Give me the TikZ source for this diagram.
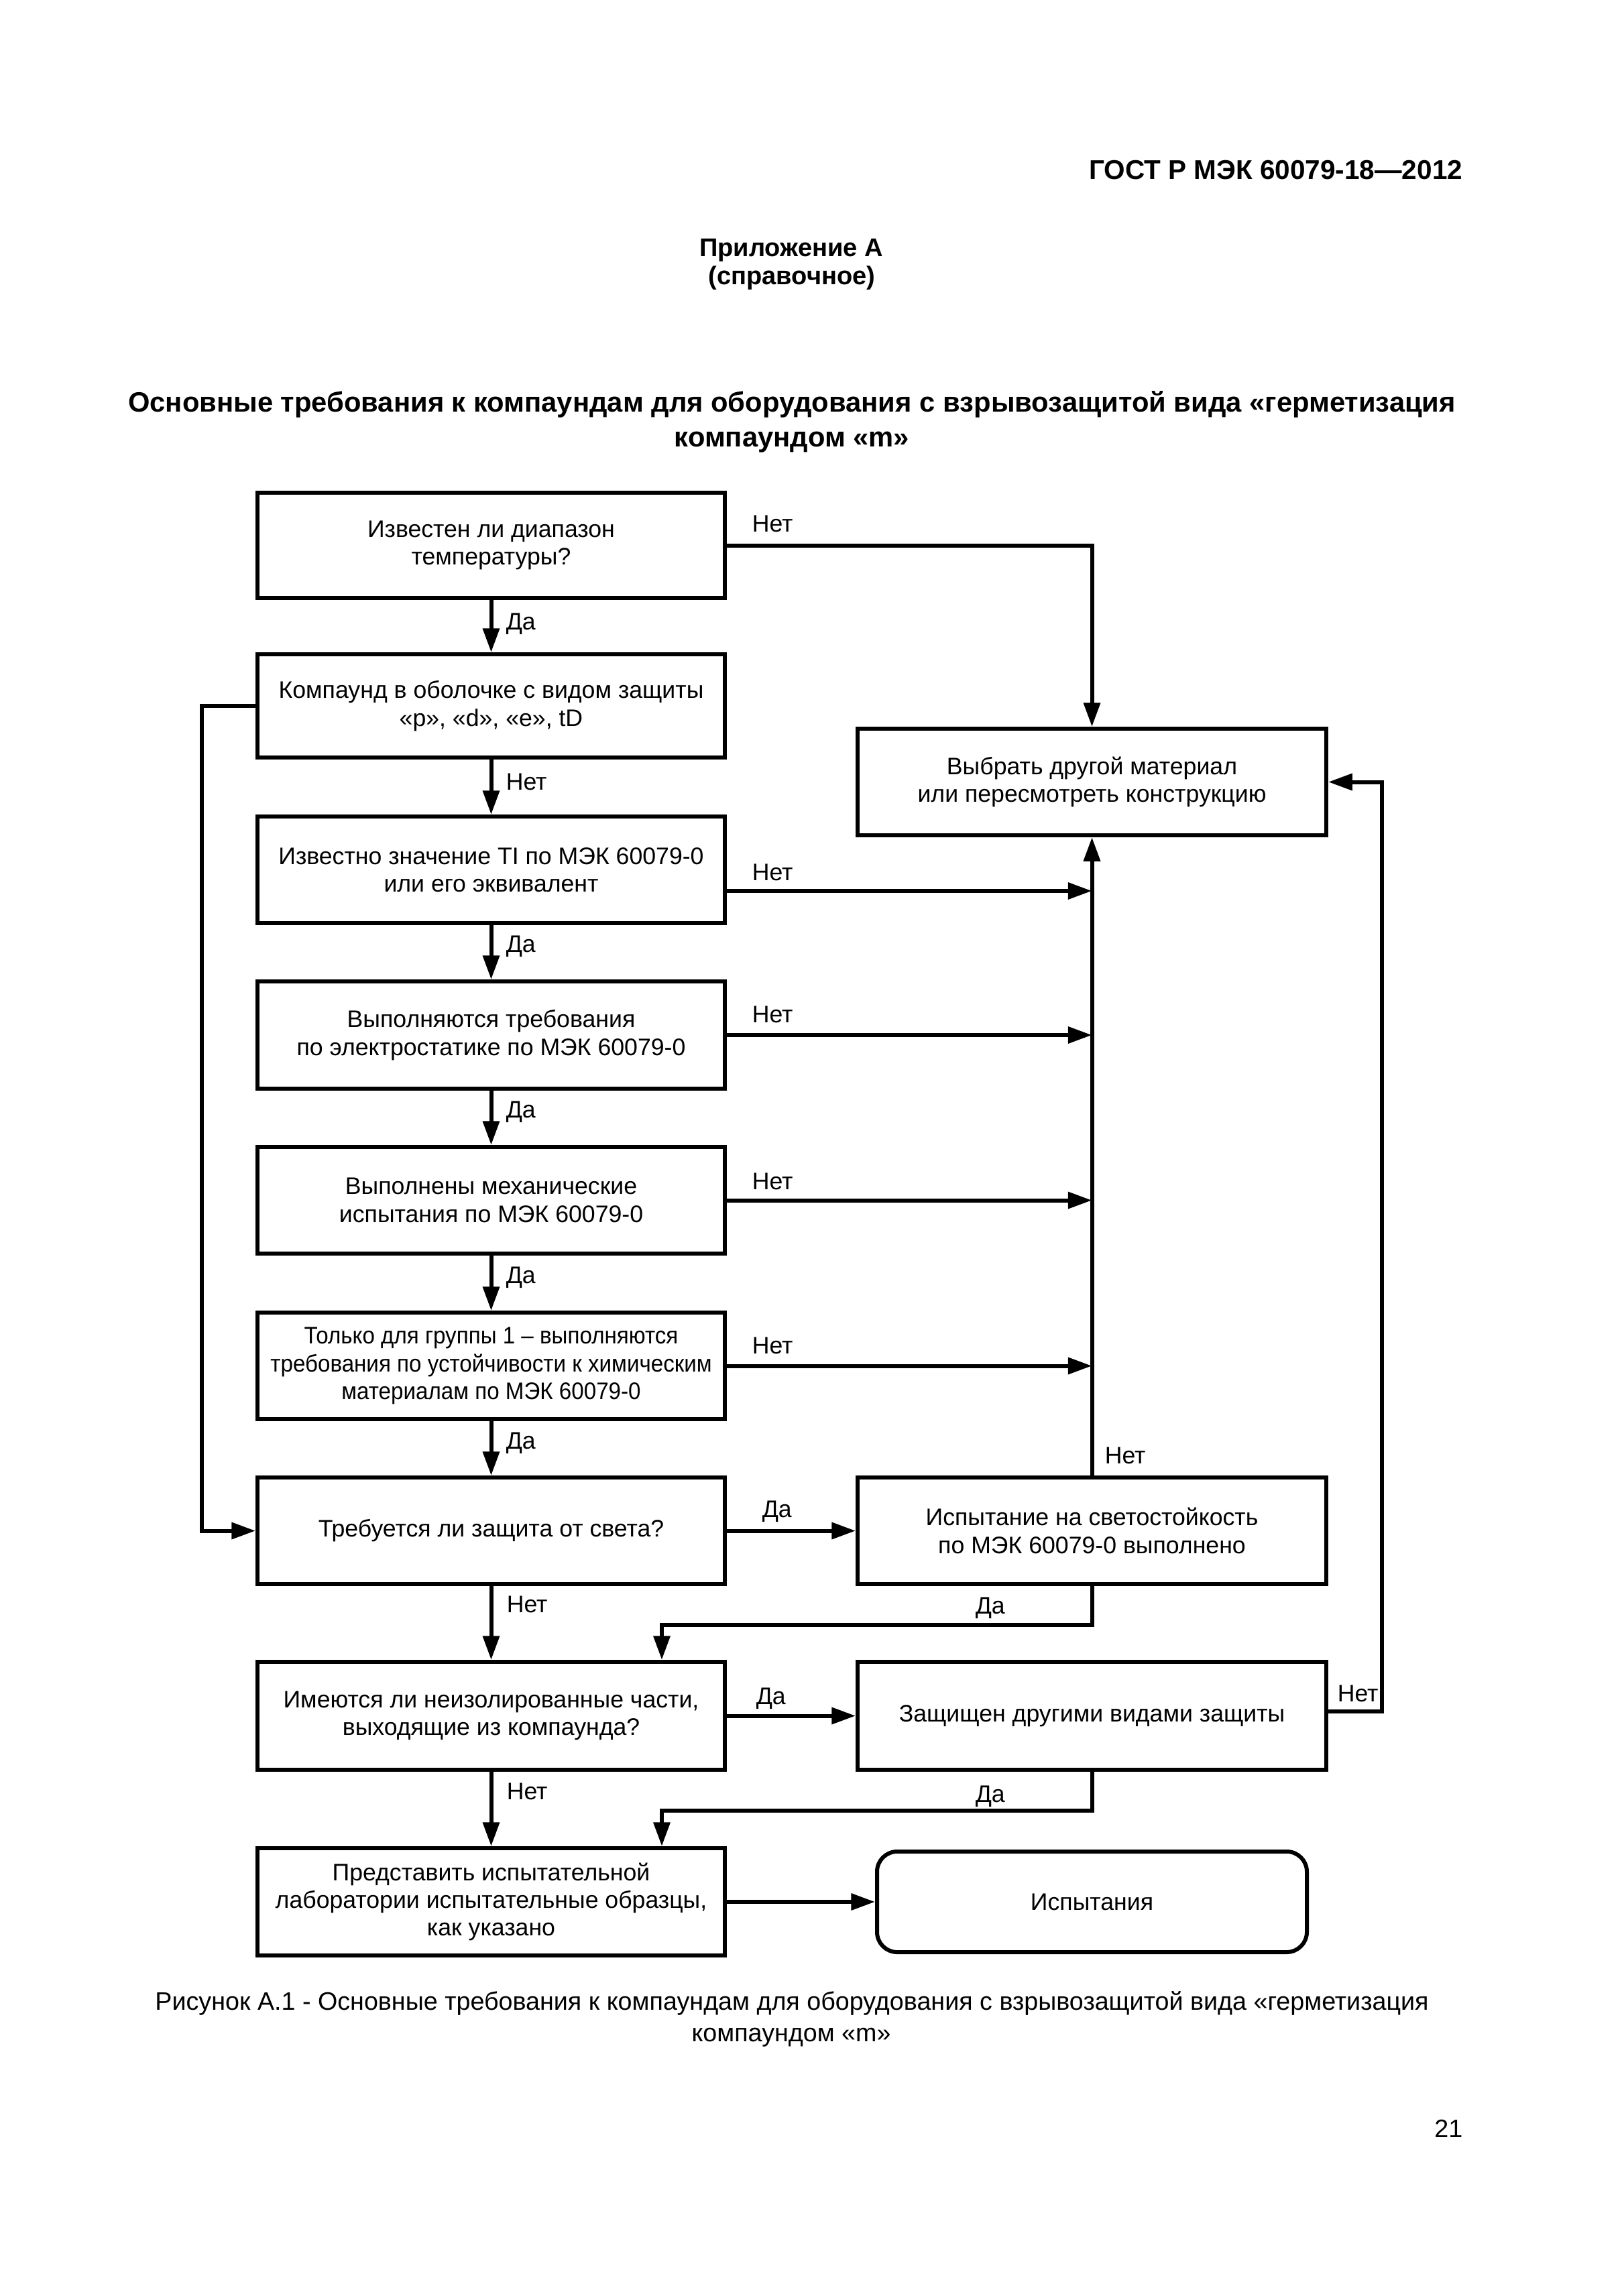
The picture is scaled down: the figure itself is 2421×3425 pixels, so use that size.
\documentclass[tikz,border=0pt]{standalone}
\usepackage{fontspec}
\setmainfont{Liberation Sans}
\newfontfamily\narrowsans[FakeStretch=0.93,Ligatures=TeX]{Liberation Sans}
\usetikzlibrary{arrows.meta}
\begin{document}
\begin{tikzpicture}[x=0.086741mm, y=-0.086741mm,
  box/.style={draw, line width=0.52mm, rectangle, align=center, inner sep=0pt,
    font=\fontsize{8.8}{10.2}\selectfont},
  bsz/.style 2 args={minimum width=#1*0.086741mm, minimum height=#2*0.086741mm},
  conn/.style={line width=0.52mm},
  arr/.style={conn, -{Triangle[length=3.1mm,width=2.1mm]}},
  lbl/.style={anchor=base west, inner sep=0pt, font=\fontsize{8.8}{10}\selectfont},
  hdr/.style={inner sep=0pt, font=\fontsize{10}{12}\selectfont\bfseries},
  captxt/.style={inner sep=0pt, font=\fontsize{9.3}{11}\selectfont},
]
\useasboundingbox (0,0) rectangle (2421,3425);

% header texts
\node[hdr, anchor=base east] (gost) at (2182,267) {ГОСТ Р МЭК 60079-18—2012};
\node[hdr, anchor=base, font=\fontsize{9.4}{11}\selectfont\bfseries] (pril) at (1180,382) {Приложение А};
\node[hdr, anchor=base, font=\fontsize{9.4}{11}\selectfont\bfseries] (sprav) at (1181,424) {(справочное)};
\node[hdr, anchor=base, font=\fontsize{10.3}{12}\selectfont\bfseries] (title1) at (1181,614) {Основные требования к компаундам для оборудования с взрывозащитой вида «герметизация};
\node[hdr, anchor=base, font=\fontsize{10.3}{12}\selectfont\bfseries] (title2) at (1181,666) {компаундом «m»};

% left column boxes
\node[box, bsz={697}{157}] (b1) at (732.5,813.5) {Известен ли диапазон\\температуры?};
\node[box, bsz={697}{154}] (b2) at (732.5,1053) {Компаунд в оболочке с видом защиты\\«p», «d», «e», tD};
\node[box, bsz={697}{159}] (b3) at (732.5,1297.5) {Известно значение TI по МЭК 60079-0\\или его эквивалент};
\node[box, bsz={697}{160}] (b4) at (732.5,1544) {Выполняются требования\\по электростатике по МЭК 60079-0};
\node[box, bsz={697}{159}] (b5) at (732.5,1790.5) {Выполнены механические\\испытания по МЭК 60079-0};
\node[box, bsz={697}{159}, font=\narrowsans\fontsize{8.8}{10.2}\selectfont] (b6) at (732.5,2037.5) {Только для группы 1 – выполняются\\требования по устойчивости к химическим\\материалам по МЭК 60079-0};
\node[box, bsz={697}{159}] (b7) at (732.5,2283.5) {Требуется ли защита от света?};
\node[box, bsz={697}{161}] (b8) at (732.5,2559.5) {Имеются ли неизолированные части,\\выходящие из компаунда?};
\node[box, bsz={697}{160}] (b9) at (732.5,2837) {Представить испытательной\\лаборатории испытательные образцы,\\как указано};

% right column boxes
\node[box, bsz={699}{159}] (r1) at (1628.5,1166.5) {Выбрать другой материал\\или пересмотреть конструкцию};
\node[box, bsz={699}{159}] (r2) at (1628.5,2283.5) {Испытание на светостойкость\\по МЭК 60079-0 выполнено};
\node[box, bsz={699}{161}] (r3) at (1628.5,2559.5) {Защищен другими видами защиты};
\node[box, bsz={641}{150}, rounded corners=2.6mm] (r4) at (1628.5,2837) {Испытания};

% helper coordinates
\coordinate (k2) at (301,1053);
\coordinate (j3) at (1628.5,1329);
\coordinate (c1) at (987,2424);
\coordinate (c2) at (987,2701);
\coordinate (c3) at (2061,2553);

% connectors
\draw[arr] (b1.east) -| (r1.north);
\draw[arr] (b1.south) -- (b2.north);
\draw[arr] (b2.south) -- (b3.north);
\draw[arr] (b3.east |- j3) -- (j3);
\draw[arr] (b3.south) -- (b4.north);
\draw[arr] (b4.east) -- (b4.east -| r1.south);
\draw[arr] (b4.south) -- (b5.north);
\draw[arr] (b5.east) -- (b5.east -| r1.south);
\draw[arr] (b5.south) -- (b6.north);
\draw[arr] (b6.east) -- (b6.east -| r1.south);
\draw[arr] (b6.south) -- (b7.north);
\draw[arr] (r2.north) -- (r1.south);
\draw[arr] (b2.west) -- (k2) |- (b7.west);
\draw[arr] (b7.east) -- (r2.west);
\draw[arr] (b7.south) -- (b8.north);
\draw[arr] (r2.south) |- (c1) -- (c1 |- b8.north);
\draw[arr] (b8.east) -- (r3.west);
\draw[arr] (r3.east |- c3) -- (c3) |- (r1.east);
\draw[arr] (b8.south) -- (b9.north);
\draw[arr] (r3.south) |- (c2) -- (c2 |- b9.north);
\draw[arr] (b9.east) -- (r4.west);

% labels
\node[lbl] (l1) at (1121,793) {Нет};
\node[lbl] (l2) at (754,939) {Да};
\node[lbl] (l3) at (754,1178) {Нет};
\node[lbl] (l4) at (1121,1313) {Нет};
\node[lbl] (l5) at (754,1420) {Да};
\node[lbl] (l6) at (1121,1525) {Нет};
\node[lbl] (l7) at (754,1667) {Да};
\node[lbl] (l8) at (1121,1774) {Нет};
\node[lbl] (l9) at (754,1914) {Да};
\node[lbl] (l10) at (1121,2019) {Нет};
\node[lbl] (l11) at (754,2161) {Да};
\node[lbl] (l12) at (1647,2183) {Нет};
\node[lbl] (l13) at (1136,2263) {Да};
\node[lbl] (l14) at (755,2405) {Нет};
\node[lbl] (l15) at (1454,2407) {Да};
\node[lbl] (l16) at (1127,2542) {Да};
\node[lbl] (l17) at (1994,2538) {Нет};
\node[lbl] (l18) at (755,2684) {Нет};
\node[lbl] (l19) at (1454,2688) {Да};

% caption
\node[captxt, anchor=base] (cap1) at (1181,2998) {Рисунок А.1 - Основные требования к компаундам для оборудования с взрывозащитой вида «герметизация};
\node[captxt, anchor=base] (cap2) at (1180,3045) {компаундом «m»};
\node[captxt, anchor=base east] (pnum) at (2182,3188) {21};
\end{tikzpicture}
\end{document}
